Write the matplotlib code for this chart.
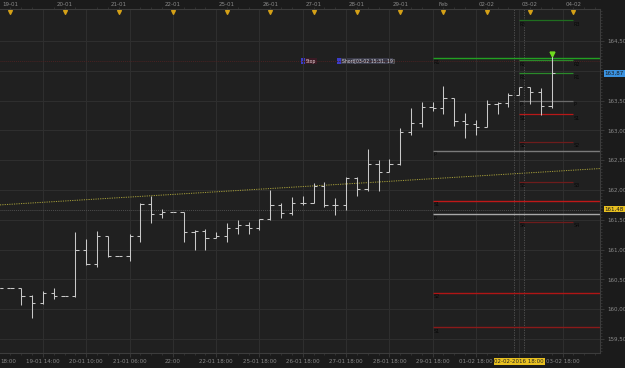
import numpy as np
import matplotlib.pyplot as plt
from matplotlib.patches import Rectangle
import matplotlib.ticker as mticker

# ---- bar data (one bar per session slot) ----
bar_open = [160.36, 160.36, 160.36, 160.22, 160.10, 160.28, 160.22, 160.22, 160.99, 160.76,
            161.22, 160.89, 160.89, 161.22, 161.76, 161.60, 161.63, 161.63, 161.29, 161.31,
            161.20, 161.22, 161.36, 161.41, 161.36, 161.51, 161.75, 161.62, 161.79, 161.79,
            162.07, 161.74, 161.74, 162.20, 162.01, 162.43, 162.31, 162.43, 162.97, 163.12,
            163.39, 163.37, 163.54, 163.16, 163.10, 163.05, 163.45, 163.46, 163.59, 163.72,
            163.64, 163.41]
bar_high = [160.36, 160.36, 160.36, 160.24, 160.31, 160.35, 160.22, 161.29, 161.18, 161.31,
            161.23, 160.89, 161.26, 161.78, 161.90, 161.68, 161.63, 161.63, 161.33, 161.34,
            161.30, 161.45, 161.49, 161.47, 161.51, 162.00, 161.78, 161.88, 161.90, 162.11,
            162.13, 161.87, 162.21, 162.21, 162.69, 162.50, 162.52, 163.04, 163.37, 163.48,
            163.47, 163.75, 163.54, 163.29, 163.17, 163.51, 163.48, 163.63, 163.73, 163.73,
            163.71, 164.24]
bar_low = [160.36, 160.36, 160.07, 159.86, 160.09, 160.17, 160.22, 160.21, 160.74, 160.71,
           160.88, 160.89, 160.81, 161.13, 161.44, 161.53, 161.63, 161.13, 161.00, 161.00,
           161.19, 161.12, 161.26, 161.26, 161.33, 161.50, 161.53, 161.58, 161.75, 161.79,
           161.72, 161.58, 161.66, 161.90, 161.99, 161.98, 162.31, 162.42, 162.92, 163.05,
           163.33, 163.28, 163.07, 162.87, 162.93, 163.05, 163.28, 163.39, 163.59, 163.45,
           163.26, 163.37]
bar_close = [160.36, 160.36, 160.22, 160.10, 160.28, 160.22, 160.22, 160.99, 160.76, 161.22,
             160.89, 160.89, 161.22, 161.76, 161.60, 161.63, 161.63, 161.29, 161.31, 161.20,
             161.23, 161.36, 161.41, 161.36, 161.51, 161.75, 161.62, 161.79, 161.79, 162.07,
             161.74, 161.74, 162.20, 162.01, 162.43, 162.31, 162.43, 162.97, 163.12, 163.39,
             163.37, 163.54, 163.16, 163.10, 163.05, 163.45, 163.46, 163.59, 163.72, 163.64,
             163.41, 163.96]

# top date markers (bar index) and labels
day_idx = [1, 6, 11, 16, 21, 25, 29, 33, 37, 41, 45, 49, 53]
day_labels = ["19-01", "20-01", "21-01", "22-01", "25-01", "26-01", "27-01",
              "28-01", "29-01", "Feb", "02-02", "03-02", "04-02"]

# bottom time labels
time_idx = [4, 8, 12, 16, 20, 24, 28, 32, 36, 40, 44, 48, 52]
time_labels = ["19-01 14:00", "20-01 10:00", "21-01 06:00", "22:00", "22-01 18:00",
               "25-01 18:00", "26-01 18:00", "27-01 18:00", "28-01 18:00", "29-01 18:00",
               "01-02 18:00", "02-02-2016 18:00", "03-02 18:00"]

# daily pivots (short segments) and weekly pivots (long segments)
short_names = ["R3", "R2", "R1", "P", "S1", "S2", "S3", "S4"]
short_levels = [164.85, 164.18, 163.96, 163.50, 163.27, 162.81, 162.14, 161.47]
short_colors = ["#1f6e1f", "#2a8a2a", "#2a8a2a", "#6a6a6a", "#b81818", "#6e1c1c", "#6e1c1c", "#6e1c1c"]

long_names = ["R1", "P", "S1", "P", "S2", "S1"]
long_levels = [164.21, 162.66, 161.82, 161.59, 160.28, 159.70]
long_colors = ["#22a022", "#7a7a7a", "#c01818", "#a8a8a8", "#b01515", "#8a1a1a"]

stop_level = 164.16
entry_level = 161.67
trend_x = [0.03, 55.46]
trend_y = [161.75, 162.36]

x = np.arange(len(bar_open))

fig = plt.figure(figsize=(6.25, 3.68), dpi=100)
fig.patch.set_facecolor("#1b1b1b")
ax = fig.add_axes([0, 15 / 368, 600 / 625, 344 / 368])
ax.set_facecolor("#202020")
ax.set_xlim(0.03, 55.46)
ax.set_ylim(159.265, 165.037)


def price_fmt(v, p):
    # the 164,00 label is covered by the current-price box
    if abs(v - 164.0) < 1e-6:
        return ""
    return f"{v:.2f}".replace(".", ",")


# grid
ax.set_xticks(time_idx)
ax.set_xticklabels(time_labels)
ax.set_yticks(np.arange(159.5, 165.0, 0.5))
ax.yaxis.set_major_formatter(mticker.FuncFormatter(price_fmt))
ax.xaxis.set_minor_locator(mticker.MultipleLocator(1))
ax.yaxis.set_minor_locator(mticker.MultipleLocator(0.05))
ax.grid(True, color="#2f2f2f", lw=0.7)
ax.yaxis.tick_right()
ax.tick_params(axis="y", which="major", colors="#3c3c3c", labelcolor="#8a8a8a",
               labelsize=4, length=3, width=0.6, pad=2)
ax.tick_params(axis="y", which="minor", colors="#3c3c3c", length=1.5, width=0.5)
ax.tick_params(axis="x", which="major", colors="#3c3c3c", labelcolor="#8a8a8a",
               labelsize=4, length=3, width=0.6, pad=1.5)
ax.tick_params(axis="x", which="minor", colors="#3c3c3c", length=1.5, width=0.5,
               top=True, bottom=True)
for lbl in ax.get_xticklabels():
    if lbl.get_text().startswith("02-02-2016"):
        lbl.set_color("#222222")
        lbl.set_bbox(dict(facecolor="#e8c020", edgecolor="none", pad=0.6))
ax.spines["left"].set_visible(False)
for s in ["top", "bottom", "right"]:
    ax.spines[s].set_color("#3c3c3c")
    ax.spines[s].set_linewidth(0.8)

fig.text(0.001, 0.5 * 15 / 368 - 0.002, "18:00", color="#8a8a8a", fontsize=4,
         ha="left", va="center")

# trend line and dotted levels
ax.plot(trend_x, trend_y, color="#a8a03a", lw=0.7, ls=(0, (1.2, 1.2)))
ax.axhline(stop_level, color="#4a2222", lw=0.7, ls=(0, (1, 1)))
ax.axhline(entry_level, color="#4e4e4e", lw=0.7, ls=(0, (1, 1)))
for vx in [47.47, 48.44]:
    ax.axvline(vx, color="#555555", lw=0.6, ls=(0, (1.5, 1.5)))

# pivots
for name, lev, col in zip(long_names, long_levels, long_colors):
    ax.hlines(lev, 40, 55.46, color=col, lw=1.0)
    ax.text(40.1, lev - 0.025, name, color="#080808", fontsize=3.5, va="top", ha="left")
for name, lev, col in zip(short_names, short_levels, short_colors):
    ax.hlines(lev, 48, 52.97, color=col, lw=0.9)
    ax.text(48.05, lev - 0.025, name, color="#080808", fontsize=3.5, va="top", ha="left")
    ax.text(53.0, lev - 0.025, name, color="#080808", fontsize=3.5, va="top", ha="left")

# OHLC bars
tw = 0.3
ax.vlines(x, bar_low, bar_high, color="#c8c8c8", lw=0.75)
ax.hlines(bar_open, x - tw, x, color="#c8c8c8", lw=0.75)
ax.hlines(bar_close, x, x + tw, color="#c8c8c8", lw=0.75)

# signal arrow on last bar
ax.plot([x[-1]], [164.28], marker="v", ms=3.5, color="#6fdc1e", mec="#6fdc1e")

# order labels
ax.add_patch(Rectangle((27.84, 164.11), 1.48, 0.10, facecolor="#3a1a24", edgecolor="none"))
ax.add_patch(Rectangle((27.84, 164.11), 0.33, 0.10, facecolor="#3c3cc8", edgecolor="none"))
ax.text(28.25, 164.16, "Stop", color="#e8d0d8", fontsize=3.3, va="center", ha="left")
ax.add_patch(Rectangle((31.14, 164.11), 5.17, 0.10, facecolor="#3a3a48", edgecolor="none"))
ax.add_patch(Rectangle((31.14, 164.11), 0.37, 0.10, facecolor="#3c3cc8", edgecolor="none"))
ax.text(31.6, 164.16, "Short[03-02 15:31, 19]", color="#d0d0d8", fontsize=3.3,
        va="center", ha="left")

# top date strip
tr = ax.get_xaxis_transform()
ax.scatter(day_idx, [0.992] * len(day_idx), marker="v", s=7, color="#d4a017",
           transform=tr, clip_on=False, zorder=5)
for d, lab in zip(day_idx, day_labels):
    ax.text(d, 1.013, lab, color="#8a8a8a", fontsize=4, ha="center", va="center",
            transform=tr, clip_on=False)

# highlighted price labels on right axis
ytr = ax.get_yaxis_transform()
ax.text(1.008, 163.87 + 0.085, "163,87", color="#1a1a1a", fontsize=4, ha="left", va="center",
        transform=ytr, clip_on=False,
        bbox=dict(facecolor="#3a92e0", edgecolor="none", pad=0.6))
ax.text(1.008, 161.68, "161,48", color="#1a1a1a", fontsize=4, ha="left", va="center",
        transform=ytr, clip_on=False,
        bbox=dict(facecolor="#e8c020", edgecolor="none", pad=0.6))

fig.savefig("out.png", dpi=100, facecolor=fig.get_facecolor())
